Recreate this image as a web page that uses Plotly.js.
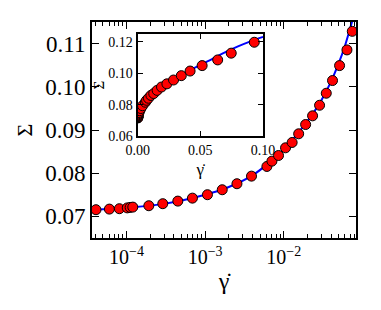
<!DOCTYPE html>
<html>
<head>
<meta charset="utf-8">
<script src="https://cdn.plot.ly/plotly-3.0.1.min.js"></script>
</head>
<body style="margin:0">
<div id="chart"></div>
<script>
// Data points (shear rate, stress)
const gammaDot = [4.08e-5, 6.04e-5, 8.1e-5, 1.02e-4, 1.11e-4, 1.2e-4, 1.92e-4, 2.89e-4, 4.49e-4, 6.89e-4,
  1.07e-3, 1.65e-3, 2.54e-3, 3.89e-3, 6.11e-3, 7.08e-3, 8.59e-3, 1.055e-2, 1.28e-2, 1.55e-2,
  1.90e-2, 2.33e-2, 2.86e-2, 3.48e-2, 4.18e-2, 5.14e-2, 6.38e-2, 7.46e-2, 9.3e-2];
const sigma = [0.07155, 0.07169, 0.07178, 0.07197, 0.07208, 0.07215, 0.07247, 0.07294, 0.07354, 0.07423,
  0.07502, 0.07617, 0.07756, 0.07932, 0.08156, 0.08279, 0.0841, 0.08588, 0.08711, 0.08912,
  0.09127, 0.09328, 0.09573, 0.09851, 0.10145, 0.10491, 0.10854, 0.11284, 0.1198];
// Fit curve
const fitGamma = [3.7e-5, 1e-4, 3e-4, 1e-3, 2e-3, 4e-3, 7e-3, 1e-2, 2e-2, 3e-2, 4e-2, 5e-2, 6e-2, 7e-2, 8e-2, 9e-2, 0.1];
const fitSigma = [0.0715, 0.0720, 0.0729, 0.0750, 0.0768, 0.0795, 0.0829, 0.0855, 0.0920, 0.0968, 0.1012, 0.1054, 0.1094, 0.1135, 0.1172, 0.1204, 0.1232];
// Tick labels
const mainXTickVals = [1e-4, 1e-3, 1e-2];
const mainXTickText = ['10<sup>−4</sup>', '10<sup>−3</sup>', '10<sup>−2</sup>'];
const mainYTickVals = [0.07, 0.08, 0.09, 0.10, 0.11];
const insetXTickVals = [0, 0.05, 0.10];
const insetYTickVals = [0.06, 0.08, 0.10, 0.12];

const FONT = 'Liberation Serif';
const markerStyle = {color: '#ff0000', size: 10, line: {color: '#000', width: 1}};
const lineStyle = {color: '#0000ff', width: 2, shape: 'spline'};

const traces = [
  {x: fitGamma, y: fitSigma, type: 'scatter', mode: 'lines', line: lineStyle, xaxis: 'x', yaxis: 'y', hoverinfo: 'skip'},
  {x: gammaDot, y: sigma, type: 'scatter', mode: 'markers', marker: markerStyle, xaxis: 'x', yaxis: 'y'},
  {x: fitGamma, y: fitSigma, type: 'scatter', mode: 'lines', line: lineStyle, xaxis: 'x2', yaxis: 'y2', hoverinfo: 'skip'},
  {x: gammaDot, y: sigma, type: 'scatter', mode: 'markers', marker: markerStyle, xaxis: 'x2', yaxis: 'y2'}
];

const layout = {
  width: 381, height: 310,
  margin: {l: 92, r: 25, t: 22, b: 72},
  paper_bgcolor: '#fff', plot_bgcolor: '#fff',
  showlegend: false,
  font: {family: FONT, color: '#000', size: 20},
  xaxis: {
    type: 'log', range: [-4.44, -1.08], domain: [0, 1], anchor: 'y',
    tickmode: 'array', tickvals: mainXTickVals, ticktext: mainXTickText,
    ticks: 'inside', ticklen: 7, tickwidth: 1, tickcolor: '#000',
    minor: {ticks: 'inside', ticklen: 4, tickwidth: 1, tickcolor: '#000', dtick: 'D1'},
    showline: true, linecolor: '#000', linewidth: 2, mirror: 'ticks',
    showgrid: false, zeroline: false,
    tickfont: {size: 20, family: FONT, color: '#000'},
    title: {text: 'γ̇', font: {size: 24, family: FONT, color: '#000'}, standoff: 4}
  },
  yaxis: {
    range: [0.065, 0.115], domain: [0, 1], anchor: 'x',
    tickmode: 'array', tickvals: mainYTickVals, tickformat: '.2f',
    ticks: 'inside', ticklen: 7, tickwidth: 1, tickcolor: '#000',
    showline: true, linecolor: '#000', linewidth: 2, mirror: 'ticks',
    showgrid: false, zeroline: false,
    tickfont: {size: 23, family: FONT, color: '#000'},
    title: {text: 'Σ', font: {size: 22, family: FONT, color: '#000'}, standoff: 6}
  },
  xaxis2: {
    range: [0, 0.1], domain: [0.173, 0.648], anchor: 'y2',
    tickmode: 'array', tickvals: insetXTickVals, tickformat: '.2f',
    ticks: 'inside', ticklen: 5, tickwidth: 1, tickcolor: '#000',
    showline: true, linecolor: '#000', linewidth: 2, mirror: 'ticks',
    showgrid: false, zeroline: false,
    tickfont: {size: 14, family: FONT, color: '#000'},
    title: {text: 'γ̇', font: {size: 17, family: FONT, color: '#000'}, standoff: 6}
  },
  yaxis2: {
    range: [0.06, 0.125], domain: [0.472, 0.944], anchor: 'x2',
    tickmode: 'array', tickvals: insetYTickVals, tickformat: '.2f',
    ticks: 'inside', ticklen: 5, tickwidth: 1, tickcolor: '#000',
    showline: true, linecolor: '#000', linewidth: 2, mirror: 'ticks',
    showgrid: false, zeroline: false,
    tickfont: {size: 14, family: FONT, color: '#000'},
    title: {text: 'Σ', font: {size: 15, family: FONT, color: '#000'}, standoff: 0}
  },
  shapes: [
    {type: 'rect', xref: 'x2 domain', yref: 'y2 domain', x0: 0, x1: 1, y0: 0, y1: 1,
     fillcolor: '#FDF5E6', line: {width: 0}, layer: 'below'}
  ]
};

Plotly.newPlot('chart', traces, layout, {displayModeBar: false});
</script>
</body>
</html>
